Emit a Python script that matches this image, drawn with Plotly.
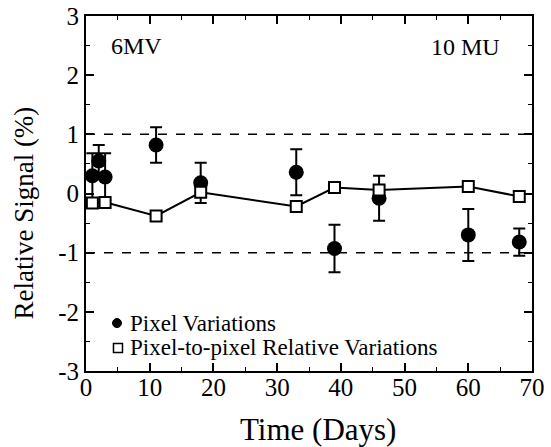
import plotly.graph_objects as go

# Pixel variations (filled circles) with their error bars
days_pix = [1, 2, 3, 11, 18, 33, 39, 46, 60, 68]
pix_var = [0.30, 0.55, 0.28, 0.82, 0.18, 0.36, -0.93, -0.08, -0.70, -0.82]
pix_err = [0.38, 0.27, 0.40, 0.30, 0.34, 0.39, 0.40, 0.38, 0.44, 0.23]

# Pixel-to-pixel relative variations (open squares, joined)
days_rel = [1, 3, 11, 18, 33, 39, 46, 60, 68]
rel_var = [-0.16, -0.15, -0.38, 0.02, -0.22, 0.10, 0.06, 0.12, -0.05]

x_ticks = [0, 10, 20, 30, 40, 50, 60, 70]
y_ticks = [-3, -2, -1, 0, 1, 2, 3]

legend_labels = ["Pixel Variations", "Pixel-to-pixel Relative Variations"]

FONT = "Liberation Serif"

fig = go.Figure()

fig.add_trace(go.Scatter(
    x=days_pix, y=pix_var, mode="markers", showlegend=False,
    marker=dict(symbol="circle", size=15, color="black"),
    error_y=dict(type="data", array=pix_err, visible=True,
                 color="black", thickness=2, width=6),
))

fig.add_trace(go.Scatter(
    x=days_rel, y=rel_var, mode="lines+markers", showlegend=False,
    line=dict(color="black", width=2),
    marker=dict(symbol="square", size=11, color="white",
                line=dict(color="black", width=2)),
))

# Dashed reference lines at +/-1 %
for yv in (1, -1):
    fig.add_shape(type="line", xref="paper", x0=0, x1=1, yref="y", y0=yv, y1=yv,
                  line=dict(color="black", width=1.5, dash="dash"))

# Hand-built legend in the lower-left corner
leg_rows = [0.135, 0.065]
fig.add_shape(type="circle", xref="paper", yref="paper",
              xsizemode="pixel", ysizemode="pixel",
              xanchor=0.0695, yanchor=leg_rows[0], x0=-4.5, x1=4.5, y0=-4.5, y1=4.5,
              fillcolor="black", line=dict(color="black", width=1))
fig.add_shape(type="rect", xref="paper", yref="paper",
              xsizemode="pixel", ysizemode="pixel",
              xanchor=0.0717, yanchor=leg_rows[1], x0=-4.5, x1=4.5, y0=-4.5, y1=4.5,
              fillcolor="white", line=dict(color="black", width=1.5))
for label, ly in zip(legend_labels, leg_rows):
    fig.add_annotation(text=label, xref="paper", yref="paper", x=0.094, y=ly,
                       xanchor="left", yanchor="middle", showarrow=False,
                       font=dict(family=FONT, size=23, color="black"))

fig.add_annotation(text="6MV", xref="paper", yref="paper", x=0.052, y=0.915,
                   xanchor="left", yanchor="middle", showarrow=False,
                   font=dict(family=FONT, size=24, color="black"))
fig.add_annotation(text="10 MU", xref="paper", yref="paper", x=0.932, y=0.913,
                   xanchor="right", yanchor="middle", showarrow=False,
                   font=dict(family=FONT, size=24, color="black"))

# Axis titles
fig.add_annotation(text="Time (Days)", xref="paper", yref="paper", x=0.52, y=-0.166,
                   xanchor="center", yanchor="middle", showarrow=False,
                   font=dict(family=FONT, size=31, color="black"))
fig.add_annotation(text="Relative Signal (%)", xref="paper", yref="paper",
                   x=-0.14, y=0.445, textangle=-90,
                   xanchor="center", yanchor="middle", showarrow=False,
                   font=dict(family=FONT, size=27, color="black"))

axis_common = dict(
    showline=True, linecolor="black", linewidth=2, mirror="ticks",
    ticks="inside", ticklen=8, tickwidth=1.5, tickcolor="black",
    showgrid=False, zeroline=False, automargin=False,
    tickfont=dict(family=FONT, size=25, color="black"),
)

fig.update_xaxes(
    range=[0, 70], tickvals=x_ticks, ticktext=[str(v) for v in x_ticks],
    minor=dict(ticks="inside", dtick=5, ticklen=4, tickcolor="black", tickwidth=1),
    ticklabelstandoff=-7,
    **axis_common,
)
fig.update_yaxes(
    range=[-3, 3], tickvals=y_ticks, ticktext=[str(v) for v in y_ticks],
    minor=dict(ticks="inside", dtick=0.5, ticklen=4, tickcolor="black", tickwidth=1),
    **axis_common,
)

fig.update_layout(
    width=551, height=447,
    margin=dict(l=86, r=19, t=16, b=76),
    paper_bgcolor="white", plot_bgcolor="white",
    showlegend=False,
)

fig.write_html("out.html")
